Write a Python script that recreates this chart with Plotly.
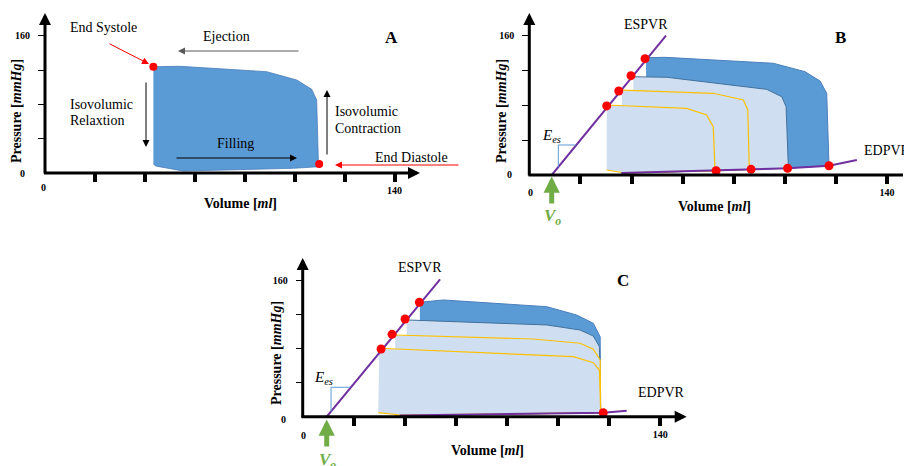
import plotly.graph_objects as go

W, H = 904, 466
SERIF = "Liberation Serif"

# ---------------- data (volume in ml, pressure in mmHg) ----------------
# Panel A : single PV loop
A_loop_V = [43.4, 54.1, 88.8, 100.8, 106.8, 108.8, 109.5, 109.5, 99.5, 55.4, 44.5, 43.4]
A_loop_P = [124.0, 124.5, 118.2, 108.5, 97.7, 85.2, 11.7, 7.3, 5.5, 2.3, 8.0, 10.5]
A_dot_V = [43.4, 109.8]
A_dot_P = [124.0, 10.5]

# Panel B : preload changes
B_loop1_V = [45.7, 53.1, 95.5, 107.9, 113.8, 116.4, 117.3, 101.1, 86.8, 73.1, 45.7]
B_loop1_P = [134.1, 134.5, 127.7, 118.1, 107.4, 93.4, 10.6, 7.7, 6.5, 4.9, 2.9]
B_loop2_V = [40.7, 53.8, 92.9, 98.8, 100.5, 101.4, 86.8, 73.1, 40.7]
B_loop2_P = [112.3, 111.7, 97.9, 89.5, 78.1, 7.7, 6.5, 4.9, 2.6]
B_loop3_V = [36.2, 72.0, 83.8, 85.5, 86.1, 73.1, 36.2]
B_loop3_P = [97.1, 93.4, 85.7, 74.3, 6.5, 4.9, 2.5]
B_loop4_V = [30.3, 61.6, 69.4, 72.0, 72.7, 36.8, 30.3]
B_loop4_P = [80.0, 76.2, 68.6, 55.2, 4.9, 2.6, 5.7]
B_es_V = [45.3, 39.8, 35.0, 30.3]
B_es_P = [133.0, 113.5, 96.0, 79.0]
B_ed_V = [117.3, 101.1, 86.8, 73.1]
B_ed_P = [10.6, 7.7, 6.5, 4.9]
B_espvr_V = [8.8, 53.5]
B_espvr_P = [0.0, 159.2]
B_edpvr_V = [36.0, 73.1, 86.8, 101.1, 117.3, 128.2]
B_edpvr_P = [2.3, 4.9, 6.5, 7.7, 10.6, 17.1]
B_ees_V = [11.35, 11.35, 18.2]
B_ees_P = [9.0, 34.3, 34.3]

# Panel C : afterload changes
C_loop1_V = [45.9, 55.1, 95.6, 107.3, 113.8, 116.5, 116.7, 45.9]
C_loop1_P = [134.6, 137.3, 129.4, 119.6, 109.9, 94.1, 4.7, 1.4]
C_loop2_V = [40.7, 95.6, 108.6, 113.8, 116.2, 116.7, 40.7]
C_loop2_P = [113.8, 107.9, 102.0, 94.9, 82.4, 4.7, 1.4]
C_loop3_V = [36.2, 90.3, 108.6, 113.8, 116.5, 116.7, 36.2]
C_loop3_P = [96.1, 91.4, 86.4, 79.3, 66.7, 4.7, 1.2]
C_loop4_V = [30.0, 106.0, 113.8, 116.2, 116.5, 116.7, 38.1, 29.6]
C_loop4_P = [80.5, 70.6, 63.5, 54.9, 27.5, 4.7, 2.0, 4.7]
C_es_V = [45.7, 40.1, 35.0, 30.7]
C_es_P = [134.6, 114.9, 96.9, 79.6]
C_ed_V = [117.7]
C_ed_P = [4.7]
C_espvr_V = [9.4, 53.8]
C_espvr_P = [0.0, 161.6]
C_edpvr_V = [38.0, 80.0, 117.7, 126.9]
C_edpvr_P = [1.5, 2.8, 4.7, 7.0]
C_ees_V = [11.1, 11.1, 18.7]
C_ees_P = [6.0, 34.6, 34.6]

x_tickvals = [20, 40, 60, 80, 100, 120, 140]
x_ticktext = ["", "", "", "", "", "", "140"]
y_tickvals = [40, 80, 120, 160]
y_ticktext = ["", "", "", "160"]

# ---------------- styles ----------------
DARK = "#5B9BD5"
DARK_LINE = "#4A7EBB"
LIGHT = "#CFDFF1"
LIGHT_LINE = "#41719C"
ORANGE = "#FFC000"
PURPLE = "#7030A0"
RED = "#FF0000"
GREEN = "#70AD47"

fig = go.Figure()


def loop(V, P, fill, line, ax, lw=1.0):
    fig.add_trace(go.Scatter(x=V, y=P, mode="lines", fill="toself", fillcolor=fill,
                             line=dict(color=line, width=lw), xaxis=ax[0], yaxis=ax[1],
                             hoverinfo="skip", showlegend=False))


def line(V, P, color, width, ax):
    fig.add_trace(go.Scatter(x=V, y=P, mode="lines", line=dict(color=color, width=width),
                             xaxis=ax[0], yaxis=ax[1], hoverinfo="skip", showlegend=False))


def dots(V, P, ax, size=9):
    fig.add_trace(go.Scatter(x=V, y=P, mode="markers", marker=dict(color=RED, size=size),
                             xaxis=ax[0], yaxis=ax[1], cliponaxis=False,
                             hoverinfo="skip", showlegend=False))


AX_A, AX_B, AX_C = ("x", "y"), ("x2", "y2"), ("x3", "y3")

# Panel A
loop(A_loop_V, A_loop_P, DARK, DARK_LINE, AX_A, 0.8)
dots(A_dot_V, A_dot_P, AX_A, 8)

# Panel B
loop(B_loop1_V, B_loop1_P, DARK, DARK_LINE, AX_B)
loop(B_loop2_V, B_loop2_P, LIGHT, LIGHT_LINE, AX_B)
loop(B_loop3_V, B_loop3_P, LIGHT, ORANGE, AX_B, 1.2)
loop(B_loop4_V, B_loop4_P, LIGHT, ORANGE, AX_B, 1.2)
line(B_espvr_V, B_espvr_P, PURPLE, 2, AX_B)
line(B_edpvr_V, B_edpvr_P, PURPLE, 2, AX_B)
line(B_ees_V, B_ees_P, DARK, 1, AX_B)
dots(B_es_V, B_es_P, AX_B)
dots(B_ed_V, B_ed_P, AX_B)

# Panel C
loop(C_loop1_V, C_loop1_P, DARK, DARK_LINE, AX_C)
loop(C_loop2_V, C_loop2_P, LIGHT, LIGHT_LINE, AX_C)
loop(C_loop3_V, C_loop3_P, LIGHT, ORANGE, AX_C, 1.2)
loop(C_loop4_V, C_loop4_P, LIGHT, ORANGE, AX_C, 1.2)
line(C_espvr_V, C_espvr_P, PURPLE, 2, AX_C)
line(C_edpvr_V, C_edpvr_P, PURPLE, 2, AX_C)
line(C_ees_V, C_ees_P, DARK, 1, AX_C)
dots(C_es_V, C_es_P, AX_C)
dots(C_ed_V, C_ed_P, AX_C)


# ---------------- axes ----------------
def px(x):
    return x / W


def py(y):
    return 1 - y / H


def xaxis(d0, d1, rng, anchor):
    return dict(domain=[px(d0), px(d1)], range=rng, anchor=anchor, showgrid=False,
                zeroline=False, showline=False, ticks="outside", ticklen=8, tickwidth=4,
                tickcolor="black", tickvals=x_tickvals, ticktext=x_ticktext,
                tickfont=dict(family=SERIF, size=10, color="black", weight="bold"),
                ticklabelstandoff=0, fixedrange=True)


def yaxis(d0, d1, rng, anchor):
    return dict(domain=[py(d0), py(d1)], range=rng, anchor=anchor, showgrid=False,
                zeroline=False, showline=False, ticks="outside", ticklen=6, tickwidth=1,
                tickcolor="black", tickvals=y_tickvals, ticktext=y_ticktext,
                tickfont=dict(family=SERIF, size=10, color="black", weight="bold"),
                ticklabelstandoff=6, fixedrange=True)


ann = []


def text(x, y, s, size=14, xa="center", ya="middle", color="black", angle=0):
    ann.append(dict(x=px(x), y=py(y), xref="paper", yref="paper", text=s, showarrow=False,
                    xanchor=xa, yanchor=ya, textangle=angle,
                    font=dict(family=SERIF, size=size, color=color)))


def parrow(x0, y0, x1, y1, color="black", width=1, size=1.4, head=2):
    ann.append(dict(x=px(x1), y=py(y1), xref="paper", yref="paper", ax=x0 - x1, ay=y0 - y1,
                    axref="pixel", ayref="pixel", text="", showarrow=True, arrowhead=head,
                    arrowsize=size, arrowwidth=width, arrowcolor=color, standoff=0))


# axis arrows (pixel positions of the drawn axes)
parrow(42.5, 173, 420, 173, "black", 3, 0.8)
parrow(45, 175, 45, 13, "black", 3, 0.8)
parrow(527, 175, 903, 175, "black", 3, 0.8, head=0)
parrow(529.3, 177, 529.3, 13, "black", 3, 0.8)
parrow(300, 416.7, 686.7, 416.7, "black", 3, 0.8)
parrow(302.7, 419, 302.7, 258, "black", 3, 0.8)

# V0 arrows
parrow(551.7, 205, 551.7, 176.5, GREEN, 5, 0.65)
parrow(326.7, 448, 326.7, 419.5, GREEN, 5, 0.65)

# zero labels
B0 = "<b>0</b>"
text(22.5, 173, B0, 10)
text(43, 187, B0, 10)
text(509, 175, B0, 10)
text(530, 192, B0, 10)
text(283.5, 419, B0, 10)
text(303.5, 435, B0, 10)

# axis titles
PT = "<b>Pressure [<i>mmHg</i>]</b>"
VT = "<b>Volume [<i>ml</i>]</b>"
text(16, 111, PT, 14, angle=-90)
text(240, 204, VT, 14)
text(501, 111, PT, 14, angle=-90)
text(714, 206, VT, 14)
text(276, 353, PT, 14, angle=-90)
text(487.5, 450, VT, 14)

# panel letters
text(391, 38, "<b>A</b>", 17)
text(840, 38, "<b>B</b>", 17)
text(623, 280, "<b>C</b>", 17)

# Panel A labels and arrows
text(68, 28, "End Systole", 14, xa="left")
parrow(108, 43, 149, 64, RED, 1, 1.4)
text(226, 36, "Ejection", 14)
parrow(300, 51, 178, 51, "#595959", 1, 1.4)
text(68, 104, "Isovolumic", 14, xa="left")
text(68, 120, "Relaxtion", 14, xa="left")
parrow(146, 81, 146, 147, "black", 1, 1.4)
text(333, 112, "Isovolumic", 14, xa="left")
text(333, 128, "Contraction", 14, xa="left")
parrow(327, 156, 327, 90, "black", 1, 1.4)
text(235, 143, "Filling", 14)
parrow(175, 158, 297, 158, "black", 1, 1.4)
text(373, 157, "End Diastole", 14, xa="left")
parrow(460, 165, 335, 165, RED, 1, 1.4)

# Panel B labels
text(646, 25, "ESPVR", 14)
text(862, 150, "EDPVR", 14, xa="left")
text(551, 136, "<i>E<sub>es</sub></i>", 15)
text(552, 217, "<b><i>V<sub>o</sub></i></b>", 17, color=GREEN)

# Panel C labels
text(420, 267, "ESPVR", 14)
text(636, 392, "EDPVR", 14, xa="left")
text(323, 378, "<i>E<sub>es</sub></i>", 15)
text(327, 461, "<b><i>V<sub>o</sub></i></b>", 17, color=GREEN)

fig.update_layout(
    width=W, height=H, margin=dict(l=0, r=0, t=0, b=0),
    paper_bgcolor="white", plot_bgcolor="white", showlegend=False,
    xaxis=xaxis(45, 460, [0, 166.2], "y"),
    yaxis=yaxis(173, 5, [0, 196.0], "x"),
    xaxis2=xaxis(529.3, 904, [0, 146.65], "y2"),
    yaxis2=yaxis(175, 5, [0, 194.3], "x2"),
    xaxis3=xaxis(302.7, 700, [0, 155.6], "y3"),
    yaxis3=yaxis(416.7, 255, [0, 190.2], "x3"),
    annotations=ann,
)

fig.write_html("out.html")
